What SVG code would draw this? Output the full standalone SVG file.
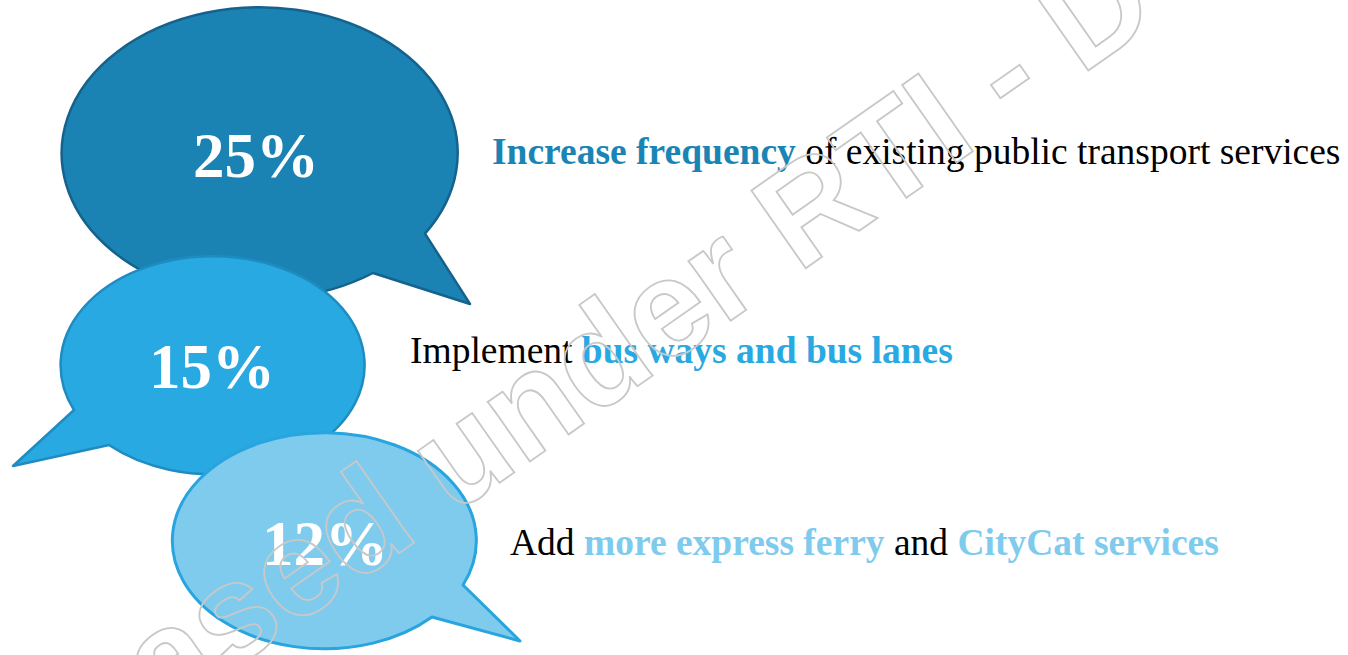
<svg xmlns="http://www.w3.org/2000/svg" width="1348" height="655" viewBox="0 0 1348 655">
  <style>
    .pct { font-family: "Liberation Serif", "Times New Roman", serif; font-weight: bold; font-size: 63px; fill: #ffffff; text-anchor: middle; }
    .lbl { font-family: "Liberation Serif", "Times New Roman", serif; font-size: 37.5px; fill: #000000; }
    .b { font-weight: bold; }
    .c1 { fill: #1a85b5; }
    .c2 { fill: #29a9e1; }
    .c3 { fill: #7fcbee; }
    .wm { font-family: "Liberation Sans", Arial, sans-serif; font-weight: bold; font-size: 138px; fill: none; stroke: #c8c8c8; stroke-width: 1.8; }
  </style>
  <rect width="1348" height="655" fill="#ffffff"/>
  <g id="bubble-25">
    <path d="M 425,233.6 L 470,304 L 373,273 A 198 146 0 1 1 425,233.6 Z" fill="#1a83b3" stroke="#15628c" stroke-width="2.5" stroke-linejoin="round"/>
    <text class="pct" x="256" y="177">25%</text>
  </g>
  <g id="bubble-15">
    <path d="M 74,410 L 13,466 L 109,445 A 152 109 0 1 0 74,410 Z" fill="#29a9e1" stroke="#1e8cc1" stroke-width="2.5" stroke-linejoin="round"/>
    <text class="pct" x="212" y="388">15%</text>
  </g>
  <g id="bubble-12">
    <path d="M 463,585 L 520,641 L 432,617 A 152 108 0 1 1 463,585 Z" fill="#7fcbee" stroke="#28a4de" stroke-width="3" stroke-linejoin="round"/>
    <text class="pct" x="325" y="565">12%</text>
  </g>
  <g id="label-1">
    <text class="lbl" x="492" y="164"><tspan class="b c1">Increase frequency</tspan> of existing public transport services</text>
  </g>
  <g id="label-2">
    <text class="lbl" x="410" y="363">Implement <tspan class="b c2">bus ways and bus lanes</tspan></text>
  </g>
  <g id="label-3">
    <text class="lbl" x="510" y="555">Add <tspan class="b c3">more express ferry</tspan> and <tspan class="b c3">CityCat services</tspan></text>
  </g>
  <g id="connectors"></g>
  <g id="watermark">
    <text class="wm" transform="translate(-75,885) rotate(-35)" x="0" y="0">Released under RTI - D</text>
  </g>
</svg>
